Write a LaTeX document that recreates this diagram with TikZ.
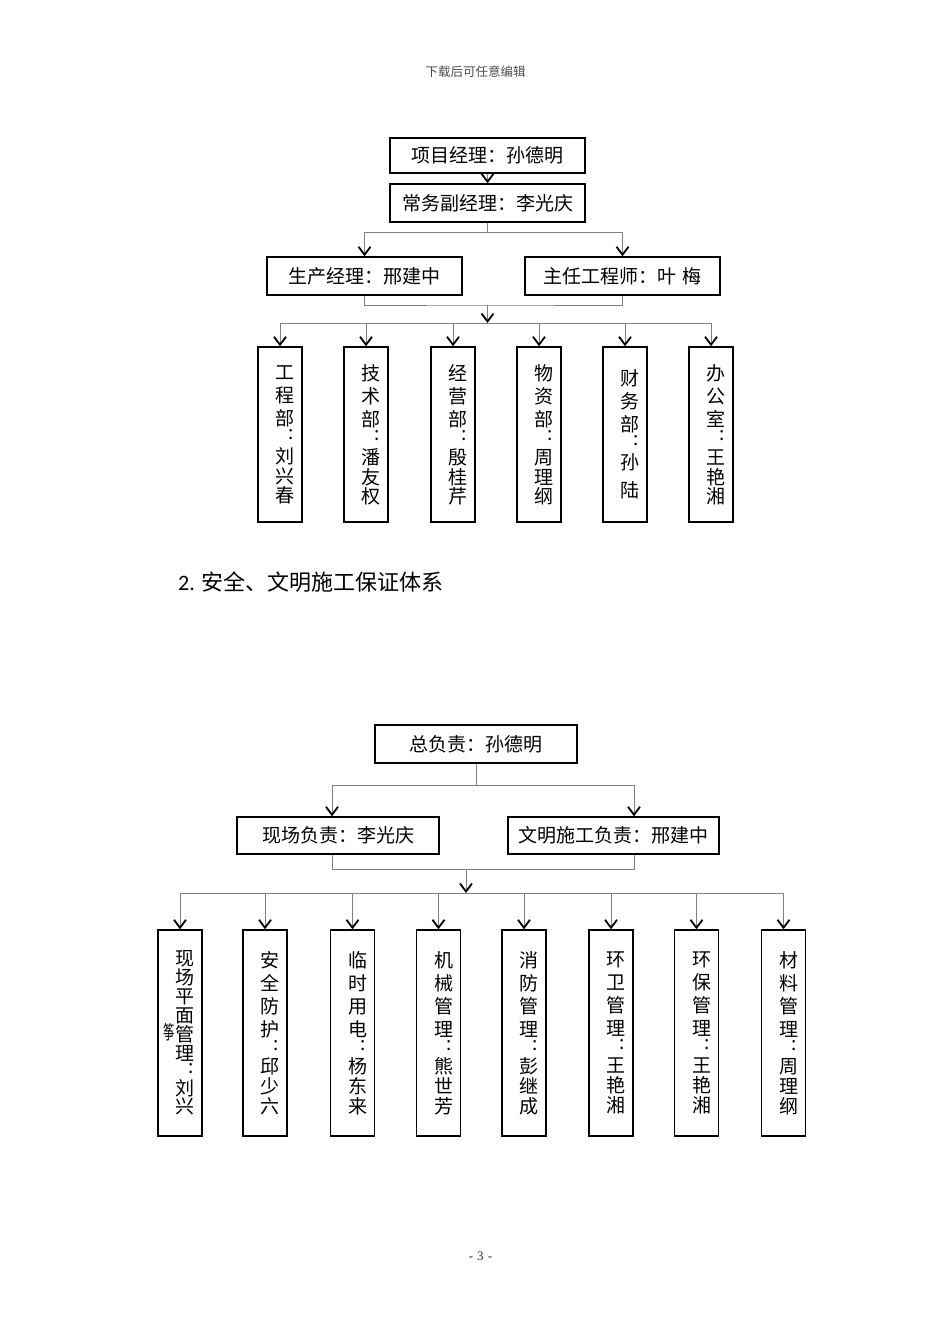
\documentclass[tikz,border=0pt]{standalone}
\usepackage{fontspec}
\setmainfont{Noto Sans CJK SC}
\newfontfamily\carlito{Carlito}
\newfontfamily\libserif{Liberation Serif}
\usepackage{graphicx}
\usetikzlibrary{arrows.meta}
\definecolor{linegray}{RGB}{128,128,128}
\newcommand{\vcolon}{\makebox[19pt][r]{:\hspace{1pt}}}
\tikzset{
  conn/.style={draw=linegray, line width=0.9pt},
  arr/.style={-{Straight Barb[length=8pt,width=12pt,line width=1.8pt,color=black]}},
  hbox/.style={draw=black, line width=1.5pt, inner sep=0pt, font=\fontsize{19}{19}\selectfont},
  vbox/.style={draw=black, line width=1.5pt, inner sep=0pt, minimum width=44pt, text width=29pt, align=right, font=\fontsize{19}{23}\selectfont},
}
\begin{document}
\begin{tikzpicture}[x=1pt,y=-1pt]
\useasboundingbox (0,0) rectangle (950,1344);
\fill[white] (0,0) rectangle (950,1344);

% header and footer
\node[font=\fontsize{12.5}{12.5}\selectfont, text=black!70] (hdr) at (475.5,72) {下载后可任意编辑};
\node[font=\libserif\fontsize{13}{13}\selectfont, text=black!80] (pg) at (480.5,1256) {-\hspace{4pt}3\hspace{4pt}-};

% ---------------- chart 1 ----------------
\node[hbox, minimum width=195pt, minimum height=35pt] (a) at (487.5,155.5) {项目经理：孙德明};
\node[hbox, minimum width=195pt, minimum height=38pt] (b) at (487.5,203) {常务副经理：李光庆\hspace{13pt}};
\node[hbox, minimum width=195pt, minimum height=38pt] (c1) at (364.5,276) {生产经理：邢建中\hspace{13pt}};
\node[hbox, minimum width=195pt, minimum height=38pt] (c2) at (622.5,276) {主任工程师：叶\hspace{7pt}梅\hspace{14pt}};

\node[vbox, minimum height=175pt] (d1) at (280,434.5) {工\\程\\部\\[-9pt]\vcolon\\[1pt]刘\\[-3pt]兴\\[-4pt]春};
\node[vbox, minimum height=175pt] (d2) at (366,434.5) {技\\术\\部\\[-9pt]\vcolon\\[1pt]潘\\[-3pt]友\\[-4pt]权};
\node[vbox, minimum height=175pt] (d3) at (453,434.5) {经\\营\\部\\[-9pt]\vcolon\\[1pt]殷\\[-3pt]桂\\[-4pt]芹};
\node[vbox, minimum height=175pt] (d4) at (539,434.5) {物\\资\\部\\[-9pt]\vcolon\\[1pt]周\\[-3pt]理\\[-4pt]纲};
\node[vbox, minimum height=175pt] (d5) at (625,434.5) {财\\务\\部\\[-9pt]\vcolon\\[1pt]孙\\[5pt]陆};
\node[vbox, minimum height=175pt] (d6) at (711,434.5) {办\\公\\室\\[-9pt]\vcolon\\[1pt]王\\[-3pt]艳\\[-4pt]湘};

\draw[conn, arr] (a.south) -- (b.north);
\coordinate (j1) at (487.5,232);
\draw[conn] (b.south) -- (j1);
\draw[conn, arr] (j1) -| (c1.north);
\draw[conn, arr] (j1) -| (c2.north);
\coordinate (j2) at (487.5,305);
\coordinate (j3) at (487.5,323);
\draw[conn] (c1.south) |- (j2) -| (c2.south);
\draw[conn, arr] (j2) -- (j3);
\draw[conn] (j3 -| d1.north) -- (j3 -| d6.north);
\foreach \n in {d1,d2,d3,d4,d5,d6}
  \draw[conn, arr] (j3 -| \n.north) -- (\n.north);

% title
\node[anchor=base west, inner sep=0pt, font=\fontsize{22}{22}\selectfont] (title) at (178,590) {{\carlito 2.}\hspace{7pt}安全、文明施工保证体系};

% ---------------- chart 2 ----------------
\node[hbox, minimum width=202pt, minimum height=38pt] (t) at (476,744) {总负责：孙德明};
\node[hbox, minimum width=202pt, minimum height=37pt] (m1) at (338,835.5) {现场负责：李光庆};
\node[hbox, minimum width=211pt, minimum height=37pt] (m2) at (613.5,835.5) {文明施工负责：邢建中\hspace{9.6pt}};

\node[vbox, minimum height=206pt, font=\fontsize{19}{19}\selectfont] (e1) at (180,1033) {现\\场\\平\\面\\管\\理\\[-6pt]\vcolon\\[3pt]刘\\[-1pt]兴};
\node[vbox, minimum height=206pt] (e2) at (265,1033) {安\\全\\防\\护\\[-9pt]\vcolon\\[0pt]邱\\[-3pt]少\\[-3pt]六};
\node[vbox, minimum height=206pt] (e3) at (352.5,1033) {临\\时\\用\\电\\[-9pt]\vcolon\\[0pt]杨\\[-3pt]东\\[-3pt]来};
\node[vbox, minimum height=206pt] (e4) at (438.5,1033) {机\\械\\管\\理\\[-9pt]\vcolon\\[0pt]熊\\[-3pt]世\\[-3pt]芳};
\node[vbox, minimum height=206pt] (e5) at (524,1033) {消\\防\\管\\理\\[-9pt]\vcolon\\[0pt]彭\\[-3pt]继\\[-3pt]成};
\node[vbox, minimum height=206pt] (e6) at (611,1033) {环\\卫\\管\\理\\[-9pt]\vcolon\\[0pt]王\\[-3pt]艳\\[-3pt]湘};
\node[vbox, minimum height=206pt] (e7) at (696.5,1033) {环\\保\\管\\理\\[-9pt]\vcolon\\[0pt]王\\[-3pt]艳\\[-3pt]湘};
\node[vbox, minimum height=206pt] (e8) at (783.5,1033) {材\\料\\管\\理\\[-9pt]\vcolon\\[0pt]周\\[-3pt]理\\[-3pt]纲};
\node[inner sep=0pt, font=\fontsize{19}{19}\selectfont] (stray) at (169,1032) {\scalebox{0.6}[1]{筝}};

\coordinate (k1) at (476,785);
\coordinate (k1L) at (332,785);
\coordinate (k1R) at (634,785);
\draw[conn] (t.south) -- (k1);
\draw[conn] (k1L) -- (k1R);
\draw[conn, arr] (k1L) -- (k1L |- m1.north);
\draw[conn, arr] (k1R) -- (k1R |- m2.north);
\coordinate (k2) at (466,869);
\coordinate (k3) at (466,893);
\draw[conn] (k1L |- m1.south) -- (k1L |- k2) -- (k1R |- k2) -- (k1R |- m2.south);
\draw[conn, arr] (k2) -- (k3);
\draw[conn] (k3 -| e1.north) -- (k3 -| e8.north);
\foreach \n in {e1,e2,e3,e4,e5,e6,e7,e8}
  \draw[conn, arr] (k3 -| \n.north) -- (\n.north);
\end{tikzpicture}
\end{document}
